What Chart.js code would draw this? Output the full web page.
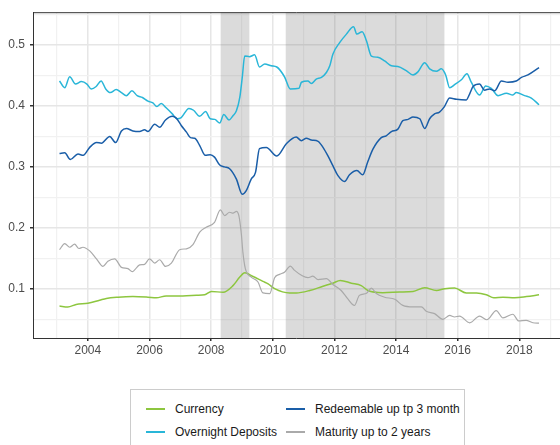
<!DOCTYPE html>
<html>
<head>
<meta charset="utf-8">
<script src="https://cdn.jsdelivr.net/npm/chart.js@4"></script>
<style>
  html, body { margin: 0; padding: 0; background: #fff; overflow: hidden; }
  body { width: 560px; height: 445px; position: relative; font-family: "Liberation Sans", Arial, sans-serif; }
  #wrap { position: absolute; left: 0; top: 0; width: 560px; height: 380px; }
  #legend {
    position: absolute; left: 130px; top: 389px; width: 335px; height: 70px;
    border: 1px solid #cccccc; box-sizing: border-box;
  }
  .item { position: absolute; font-size: 12px; color: #1a1a1a; line-height: 14px; white-space: nowrap; }
  .item span.sw { position: absolute; left: -29px; top: 6px; width: 19px; height: 2px; }
</style>
</head>
<body>
<div id="wrap"><canvas id="root" width="560" height="380"></canvas></div>
<div id="legend"></div>
<script>
// shaded periods
const shadeStart = [2008.31, 2010.42]
const shadeEnd = [2009.24, 2015.57]

const seriesNames = ['Currency', 'Overnight Deposits', 'Redeemable up tp 3 month', 'Maturity up to 2 years']
const seriesColors = ['#8dc63f', '#29b6d8', '#1a5ea8', '#aaaaaa']

const currencyYears = [2003.08, 2003.35, 2003.62, 2004.0, 2004.38, 2004.6, 2004.98, 2005.46, 2005.95, 2006.22, 2006.54, 2007.08, 2007.52, 2007.79, 2008.01, 2008.39, 2008.71, 2008.93, 2009.09, 2009.36, 2009.68, 2009.85, 2010.06, 2010.55, 2010.76, 2011.2, 2011.63, 2011.95, 2012.19, 2012.55, 2012.87, 2013.09, 2013.57, 2014.11, 2014.55, 2014.93, 2015.31, 2015.58, 2015.9, 2016.28, 2016.61, 2016.93, 2017.17, 2017.47, 2017.85, 2018.23, 2018.64]
const currency = [0.0715, 0.070, 0.074, 0.076, 0.081, 0.084, 0.086, 0.087, 0.086, 0.085, 0.088, 0.088, 0.089, 0.090, 0.0955, 0.094, 0.105, 0.119, 0.126, 0.120, 0.112, 0.108, 0.100, 0.093, 0.093, 0.097, 0.104, 0.109, 0.1135, 0.109, 0.105, 0.097, 0.0935, 0.0945, 0.0955, 0.1015, 0.097, 0.100, 0.101, 0.093, 0.093, 0.090, 0.085, 0.086, 0.085, 0.087, 0.090]

const overnightYears = [2003.08, 2003.25, 2003.41, 2003.6, 2003.79, 2003.97, 2004.11, 2004.27, 2004.43, 2004.58, 2004.73, 2004.92, 2005.09, 2005.25, 2005.43, 2005.6, 2005.77, 2005.95, 2006.11, 2006.24, 2006.38, 2006.54, 2006.74, 2006.89, 2007.03, 2007.28, 2007.43, 2007.63, 2007.82, 2007.97, 2008.12, 2008.28, 2008.41, 2008.58, 2008.71, 2008.82, 2008.93, 2009.01, 2009.09, 2009.25, 2009.41, 2009.57, 2009.74, 2009.95, 2010.13, 2010.38, 2010.57, 2010.85, 2010.93, 2011.14, 2011.25, 2011.41, 2011.58, 2011.74, 2011.85, 2011.95, 2012.17, 2012.39, 2012.62, 2012.73, 2012.9, 2013.04, 2013.2, 2013.41, 2013.63, 2013.85, 2014.06, 2014.33, 2014.55, 2014.71, 2014.93, 2015.09, 2015.31, 2015.47, 2015.61, 2015.74, 2015.9, 2016.12, 2016.3, 2016.44, 2016.71, 2016.91, 2017.09, 2017.31, 2017.58, 2017.79, 2017.9, 2018.17, 2018.39, 2018.64]
const overnight = [0.441, 0.430, 0.448, 0.436, 0.440, 0.436, 0.428, 0.432, 0.441, 0.428, 0.422, 0.427, 0.422, 0.417, 0.425, 0.417, 0.414, 0.408, 0.405, 0.399, 0.404, 0.397, 0.387, 0.379, 0.381, 0.396, 0.393, 0.383, 0.391, 0.379, 0.378, 0.372, 0.386, 0.377, 0.384, 0.392, 0.414, 0.447, 0.482, 0.481, 0.484, 0.464, 0.469, 0.466, 0.464, 0.448, 0.428, 0.429, 0.439, 0.441, 0.437, 0.444, 0.447, 0.455, 0.466, 0.485, 0.504, 0.518, 0.530, 0.518, 0.522, 0.507, 0.482, 0.480, 0.474, 0.466, 0.465, 0.458, 0.451, 0.456, 0.471, 0.461, 0.457, 0.461, 0.451, 0.430, 0.435, 0.443, 0.453, 0.439, 0.418, 0.433, 0.429, 0.417, 0.421, 0.418, 0.422, 0.417, 0.413, 0.402]

const redeemYears = [2003.08, 2003.25, 2003.43, 2003.68, 2003.85, 2004.06, 2004.28, 2004.44, 2004.71, 2004.9, 2005.09, 2005.25, 2005.46, 2005.68, 2005.84, 2005.95, 2006.17, 2006.33, 2006.52, 2006.74, 2006.87, 2007.03, 2007.2, 2007.33, 2007.47, 2007.63, 2007.81, 2007.97, 2008.11, 2008.28, 2008.43, 2008.6, 2008.82, 2009.01, 2009.14, 2009.3, 2009.44, 2009.57, 2009.79, 2010.13, 2010.44, 2010.76, 2010.93, 2011.09, 2011.25, 2011.47, 2011.63, 2011.79, 2011.95, 2012.11, 2012.33, 2012.49, 2012.73, 2012.92, 2013.08, 2013.25, 2013.52, 2013.68, 2013.85, 2014.06, 2014.22, 2014.39, 2014.55, 2014.77, 2014.93, 2015.09, 2015.25, 2015.41, 2015.57, 2015.74, 2015.96, 2016.28, 2016.39, 2016.5, 2016.71, 2016.87, 2017.03, 2017.2, 2017.42, 2017.63, 2017.9, 2018.07, 2018.28, 2018.64]
const redeem = [0.322, 0.323, 0.312, 0.321, 0.319, 0.332, 0.340, 0.339, 0.350, 0.340, 0.359, 0.363, 0.359, 0.358, 0.361, 0.358, 0.370, 0.365, 0.377, 0.383, 0.380, 0.368, 0.357, 0.348, 0.347, 0.335, 0.319, 0.320, 0.316, 0.303, 0.300, 0.297, 0.280, 0.255, 0.261, 0.280, 0.291, 0.330, 0.332, 0.318, 0.338, 0.349, 0.343, 0.347, 0.344, 0.342, 0.332, 0.318, 0.302, 0.286, 0.276, 0.287, 0.294, 0.287, 0.308, 0.329, 0.348, 0.351, 0.358, 0.362, 0.376, 0.378, 0.382, 0.379, 0.363, 0.379, 0.387, 0.390, 0.399, 0.413, 0.411, 0.410, 0.420, 0.432, 0.436, 0.426, 0.428, 0.425, 0.441, 0.439, 0.441, 0.447, 0.451, 0.463]

const maturityYears = [2003.08, 2003.25, 2003.41, 2003.57, 2003.71, 2003.84, 2004.06, 2004.28, 2004.49, 2004.65, 2004.87, 2005.09, 2005.3, 2005.44, 2005.68, 2005.84, 2006.0, 2006.17, 2006.33, 2006.52, 2006.71, 2006.98, 2007.2, 2007.41, 2007.63, 2007.84, 2008.11, 2008.3, 2008.44, 2008.6, 2008.71, 2008.82, 2008.9, 2008.98, 2009.03, 2009.11, 2009.3, 2009.52, 2009.68, 2009.9, 2010.06, 2010.22, 2010.38, 2010.57, 2010.71, 2010.93, 2011.14, 2011.3, 2011.47, 2011.74, 2011.95, 2012.22, 2012.43, 2012.65, 2012.81, 2013.03, 2013.2, 2013.36, 2013.63, 2013.96, 2014.22, 2014.55, 2014.82, 2014.98, 2015.25, 2015.52, 2015.74, 2015.9, 2016.06, 2016.39, 2016.71, 2016.95, 2017.25, 2017.47, 2017.79, 2017.98, 2018.22, 2018.44, 2018.64]
const maturity = [0.164, 0.174, 0.168, 0.173, 0.166, 0.168, 0.162, 0.149, 0.1365, 0.145, 0.149, 0.135, 0.133, 0.128, 0.139, 0.140, 0.149, 0.142, 0.1475, 0.1365, 0.142, 0.164, 0.1655, 0.1725, 0.193, 0.201, 0.209, 0.2295, 0.220, 0.2255, 0.224, 0.227, 0.220, 0.190, 0.160, 0.133, 0.119, 0.111, 0.093, 0.092, 0.118, 0.1235, 0.127, 0.137, 0.130, 0.122, 0.118, 0.1205, 0.115, 0.1165, 0.107, 0.097, 0.0835, 0.0725, 0.089, 0.092, 0.101, 0.092, 0.086, 0.0825, 0.0725, 0.070, 0.070, 0.063, 0.059, 0.0497, 0.056, 0.0535, 0.055, 0.044, 0.055, 0.049, 0.064, 0.052, 0.058, 0.047, 0.048, 0.044, 0.0435]

const xTicks = [2003, 2004, 2005, 2006, 2007, 2008, 2009, 2010, 2011, 2012, 2013, 2014, 2015, 2016, 2017, 2018, 2019]
const yTicks = [0.05, 0.1, 0.15, 0.2, 0.25, 0.3, 0.35, 0.4, 0.45, 0.5, 0.55]

function pairs(xs, ys) {
    return xs.map((x, i) => ({x: x, y: ys[i]}))
}

const allYears = [currencyYears, overnightYears, redeemYears, maturityYears]
const allValues = [currency, overnight, redeem, maturity]

const shading = {
    id: 'shading',
    beforeDatasetsDraw(chart) {
        const {ctx, chartArea, scales} = chart
        ctx.save()
        ctx.fillStyle = 'rgba(110,110,110,0.25)'
        for (let i = 0; i < shadeStart.length; i++) {
            const x0 = scales.x.getPixelForValue(shadeStart[i])
            const x1 = scales.x.getPixelForValue(shadeEnd[i])
            ctx.fillRect(x0, chartArea.top, x1 - x0, chartArea.bottom - chartArea.top)
        }
        // top border of the panel
        ctx.strokeStyle = '#333333'
        ctx.lineWidth = 1
        ctx.beginPath()
        ctx.moveTo(chartArea.left, chartArea.top + 0.5)
        ctx.lineTo(chartArea.right, chartArea.top + 0.5)
        ctx.stroke()
        ctx.restore()
    }
}

const isMajorX = v => v % 2 === 0
const isMajorY = v => Math.round(v * 100) % 10 === 0

let ctx = document.getElementById('root').getContext('2d')

let config = {
    type: 'line',
    data: {
        datasets: seriesNames.map((name, i) => ({
            label: name,
            data: pairs(allYears[i], allValues[i]),
            borderColor: seriesColors[i],
            borderWidth: i === 3 ? 1.2 : 1.5,
            pointRadius: 0,
            fill: false,
            cubicInterpolationMode: 'monotone'
        })).reverse()
    },
    options: {
        responsive: false,
        animation: false,
        layout: {padding: {top: 11, right: 0, left: 0, bottom: 0}},
        plugins: {legend: {display: false}, tooltip: {enabled: false}},
        scales: {
            x: {
                type: 'linear',
                min: 2002.22,
                max: 2019.32,
                afterBuildTicks: scale => { scale.ticks = xTicks.map(v => ({value: v})) },
                afterFit: scale => { scale.height = 42 },
                ticks: {
                    autoSkip: false,
                    maxRotation: 0,
                    padding: 2,
                    color: '#4d4d4d',
                    font: {family: 'Liberation Sans', size: 12},
                    callback: v => isMajorX(v) ? String(v) : ''
                },
                grid: {
                    color: c => isMajorX(c.tick.value) ? '#e6e6e6' : '#f1f1f1',
                    lineWidth: c => isMajorX(c.tick.value) ? 1.5 : 1.2,
                    tickColor: c => isMajorX(c.tick.value) ? '#333333' : 'rgba(0,0,0,0)',
                    tickLength: 3
                },
                border: {color: '#333333', width: 1}
            },
            y: {
                min: 0.019,
                max: 0.554,
                afterBuildTicks: scale => { scale.ticks = yTicks.map(v => ({value: v})) },
                afterFit: scale => { scale.width = 33 },
                ticks: {
                    padding: 5,
                    color: '#4d4d4d',
                    font: {family: 'Liberation Sans', size: 12},
                    callback: v => isMajorY(v) ? v.toFixed(1) : ''
                },
                grid: {
                    color: c => isMajorY(c.tick.value) ? '#e6e6e6' : '#f1f1f1',
                    lineWidth: c => isMajorY(c.tick.value) ? 1.5 : 1.2,
                    tickColor: c => isMajorY(c.tick.value) ? '#333333' : 'rgba(0,0,0,0)',
                    tickLength: 3
                },
                border: {color: '#333333', width: 1}
            }
        }
    },
    plugins: [shading]
}

let myChart = new Chart(ctx, config)

// legend, two columns, filled column by column
const legendPos = [[175, 12], [175, 35], [315, 12], [315, 35]]
const legend = document.getElementById('legend')
seriesNames.forEach((name, i) => {
    const d = document.createElement('div')
    d.className = 'item'
    d.style.left = (legendPos[i][0] - 131) + 'px'
    d.style.top = (legendPos[i][1] - 0) + 'px'
    d.innerHTML = '<span class="sw" style="background:' + seriesColors[i] + '"></span>' + name
    legend.appendChild(d)
})
</script>
</body>
</html>
